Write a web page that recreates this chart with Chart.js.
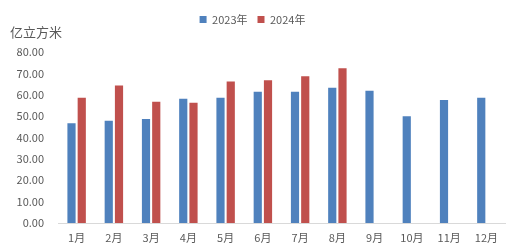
<!DOCTYPE html>
<html>
<head>
<meta charset="utf-8">
<script src="https://cdn.jsdelivr.net/npm/chart.js@4.4.1/dist/chart.umd.min.js"></script>
<style>
  html, body { margin: 0; padding: 0; background: #fff; }
  #wrap { width: 522px; height: 251px; }
</style>
</head>
<body>
<div id="wrap"><canvas id="gasChart" width="522" height="251"></canvas></div>
<script>
// 月份和数据
const months = ['1月', '2月', '3月', '4月', '5月', '6月', '7月', '8月', '9月', '10月', '11月', '12月'];
const values2023 = [46.7, 47.8, 48.6, 58.1, 58.6, 61.4, 61.4, 63.3, 61.9, 50.0, 57.6, 58.6];
const values2024 = [58.6, 64.3, 56.7, 56.2, 66.2, 66.8, 68.6, 72.4, null, null, null, null];
const yTicks = [0, 10, 20, 30, 40, 50, 60, 70, 80];

const fontFamily = '"Noto Sans CJK SC", "Liberation Sans", sans-serif';
const textColor = '#595959';

// unit label top-left + extra room under the legend
const unitLabel = {
    id: 'unitLabel',
    beforeInit(chart) {
        const origFit = chart.legend.fit;
        chart.legend.fit = function() {
            origFit.bind(chart.legend)();
            this.height += 17;
        };
    },
    afterDraw(chart) {
        const ctx = chart.ctx;
        ctx.save();
        ctx.font = '13px ' + fontFamily;
        ctx.fillStyle = textColor;
        ctx.textBaseline = 'middle';
        ctx.fillText('亿立方米', 10, 32);
        ctx.restore();
    }
};

const ctx = document.getElementById('gasChart').getContext('2d');
new Chart(ctx, {
    type: 'bar',
    data: {
        labels: months,
        datasets: [
            {
                label: '2023年',
                data: values2023,
                backgroundColor: '#4F81BD',
                barPercentage: 0.8,
                categoryPercentage: 0.55
            },
            {
                label: '2024年',
                data: values2024,
                backgroundColor: '#C0504D',
                barPercentage: 0.8,
                categoryPercentage: 0.55
            }
        ]
    },
    options: {
        responsive: false,
        animation: false,
        layout: {
            padding: { top: 4, right: 17, bottom: 0, left: 0 }
        },
        plugins: {
            legend: {
                position: 'top',
                labels: {
                    boxWidth: 7,
                    boxHeight: 7,
                    padding: 10,
                    color: textColor,
                    font: { family: fontFamily, size: 11 }
                }
            },
            title: { display: false },
            tooltip: { enabled: false }
        },
        scales: {
            x: {
                grid: { display: false, drawTicks: false },
                border: { color: '#d9d9d9' },
                ticks: {
                    color: textColor,
                    padding: 8,
                    maxRotation: 0,
                    font: { family: fontFamily, size: 11 }
                },
                afterFit(scale) { scale.height = 28; }
            },
            y: {
                min: 0,
                max: 80,
                grid: { display: false, drawTicks: false },
                border: { display: false },
                afterBuildTicks(scale) {
                    scale.ticks = yTicks.map(v => ({ value: v }));
                },
                ticks: {
                    color: textColor,
                    padding: 14,
                    font: { family: fontFamily, size: 11 },
                    callback: v => v.toFixed(2)
                },
                afterFit(scale) { scale.width = 58; }
            }
        }
    },
    plugins: [unitLabel]
});
</script>
</body>
</html>
